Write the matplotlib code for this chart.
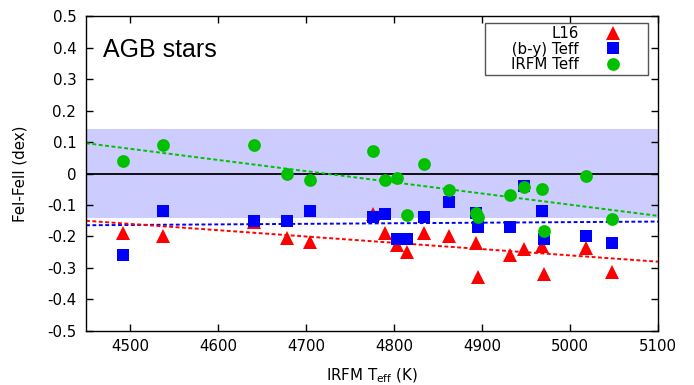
import numpy as np
import matplotlib
matplotlib.use("Agg")
import matplotlib.pyplot as plt
from matplotlib.ticker import FuncFormatter

# IRFM Teff of each AGB star (K)
teff = [4492, 4537, 4641, 4678, 4705, 4776, 4790, 4803, 4815, 4834,
        4862, 4893, 4895, 4932, 4948, 4968, 4970, 5018, 5048]
# [FeI/H]-[FeII/H] for the three temperature scales
diff_l16 = [-0.190, -0.200, -0.155, -0.206, -0.216, -0.129, -0.188, -0.227, -0.248, -0.188,
            -0.197, -0.220, -0.328, -0.259, -0.241, -0.230, -0.319, -0.238, -0.312]
diff_by = [-0.260, -0.119, -0.150, -0.150, -0.119, -0.139, -0.130, -0.209, -0.209, -0.139,
           -0.089, -0.124, -0.169, -0.171, -0.040, -0.119, -0.209, -0.200, -0.220]
diff_irfm = [0.039, 0.090, 0.090, -0.002, -0.022, 0.071, -0.022, -0.015, -0.132, 0.029,
             -0.052, -0.124, -0.139, -0.068, -0.042, -0.049, -0.183, -0.008, -0.144]

# linear trends: (slope per K, value at 4800 K)
fit_l16 = (-2.0e-4, -0.220)
fit_by = (1.8e-5, -0.158)
fit_irfm = (-3.55e-4, -0.028)

band = 0.14
xlim = (4450, 5100)

fs = 10.8
plt.rcParams['font.family'] = 'DejaVu Sans'
plt.rcParams['font.size'] = fs

fig = plt.figure(figsize=(6.94, 3.85), dpi=100)
ax = fig.add_axes([0.1239, 0.1403, 0.8242, 0.8181])

ax.axhspan(-band, band, color='#ccccff', lw=0, zorder=0)
ax.axhline(0, color='black', lw=1.3, zorder=1)

xx = np.linspace(xlim[0], xlim[1], 50)
for (slope, y0), col in [(fit_irfm, '#00c000'), (fit_by, '#0000ff'), (fit_l16, '#ff0000')]:
    ax.plot(xx, y0 + slope * (xx - 4800), color=col, lw=1.4,
            linestyle=(0, (2, 1.3)), zorder=2)

ax.plot(teff, diff_l16, '^', color='#ff0000', ms=9.5, mew=0, label='L16', zorder=3)
ax.plot(teff, diff_by, 's', color='#0000ff', ms=8.6, mew=0, label='     (b-y) Teff', zorder=4)
ax.plot(teff, diff_irfm, 'o', color='#00c000', ms=9.2, mew=0, label='IRFM Teff', zorder=5)

ax.set_xlim(*xlim)
ax.set_ylim(-0.5, 0.5)
ax.set_xticks(np.arange(4500, 5101, 100))
ax.set_yticks(np.round(np.arange(-0.5, 0.51, 0.1), 1))
ax.yaxis.set_major_formatter(FuncFormatter(lambda v, p: '0' if abs(v) < 1e-9 else f'{v:.1f}'))
ax.tick_params(direction='in', top=True, right=True, length=4.7, width=1, labelsize=fs)
ax.tick_params(axis='x', pad=6)
ax.tick_params(axis='y', pad=7)
for s in ax.spines.values():
    s.set_linewidth(1)

ax.set_xlabel(r'IRFM T$_{\mathrm{eff}}$ (K)', fontsize=fs, labelpad=9)
ax.set_ylabel('FeI-FeII (dex)', fontsize=fs, labelpad=14)

ax.text(0.03, 0.93, 'AGB stars', transform=ax.transAxes, fontsize=18,
        family='Liberation Sans', va='top', ha='left')

leg = ax.legend(loc='upper right', bbox_to_anchor=(0.9825, 0.978), borderaxespad=0,
                markerfirst=False, fontsize=fs, fancybox=False, framealpha=1,
                edgecolor='#555555', borderpad=0.2, labelspacing=0.05,
                handlelength=4.3, handletextpad=0.1)
leg.get_frame().set_linewidth(1)

fig.savefig('out.png', dpi=100)
